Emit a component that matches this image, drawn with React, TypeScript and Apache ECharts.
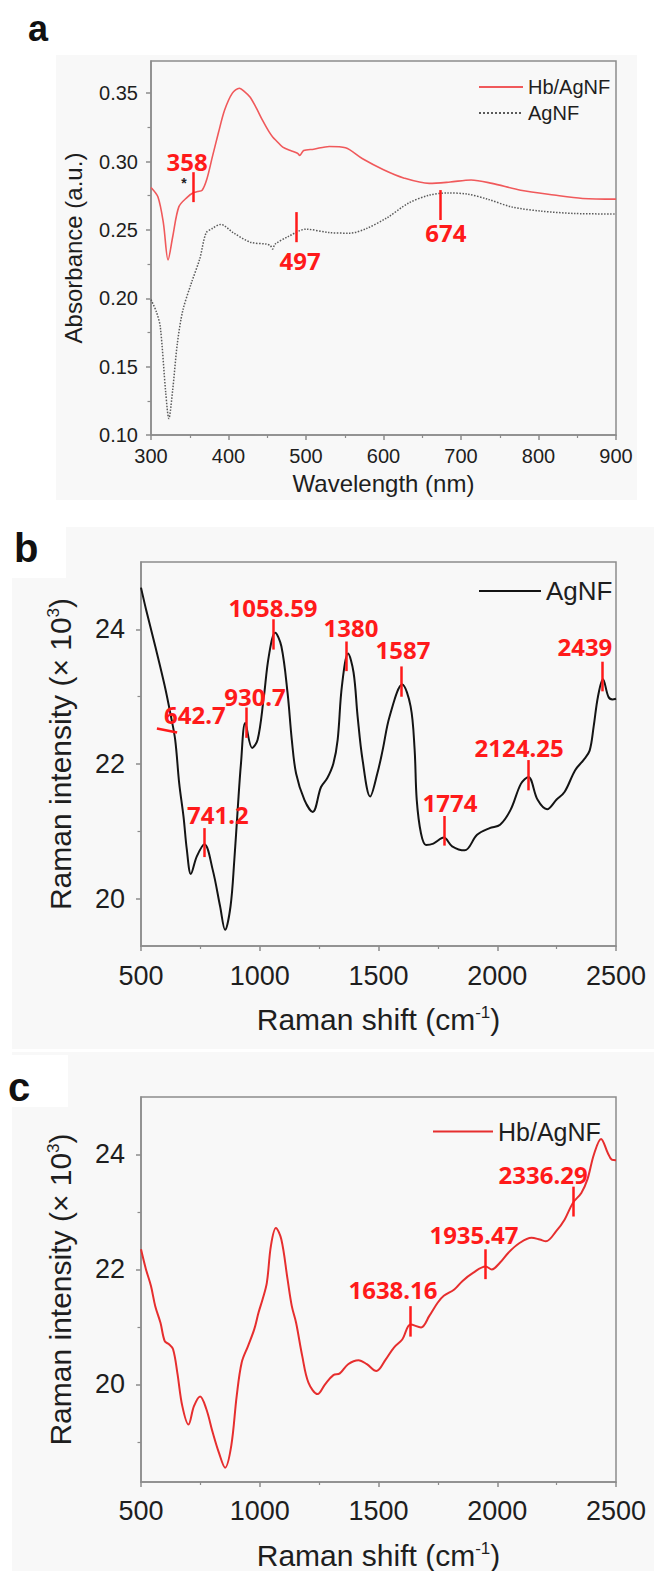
import React, { useEffect, useRef } from "react";
import * as echarts from "echarts";

// ---------- Panel a: UV-vis absorbance ----------
const uvHbX = [300, 309, 316, 322, 328, 336, 347, 354, 360, 366, 372, 379, 387, 395, 405, 414, 421, 428, 436, 444, 452, 457, 462, 470, 480, 489, 492, 497, 510, 530, 551, 573, 600, 626, 659, 686, 713, 740, 777, 820, 857, 900];
const uvHbY = [0.281, 0.274, 0.255, 0.228, 0.245, 0.267, 0.274, 0.277, 0.278, 0.279, 0.287, 0.303, 0.321, 0.3376, 0.350, 0.3536, 0.351, 0.347, 0.339, 0.330, 0.322, 0.318, 0.315, 0.3105, 0.308, 0.306, 0.3045, 0.308, 0.309, 0.311, 0.310, 0.302, 0.294, 0.288, 0.284, 0.285, 0.2865, 0.284, 0.279, 0.2755, 0.273, 0.2725];
const uvAgX = [300, 307, 312, 319, 323, 328, 334, 341, 352, 363, 371, 379, 390, 406, 428, 449, 454, 457, 460, 476, 500, 530, 557, 578, 605, 632, 659, 683, 708, 734, 766, 804, 847, 900];
const uvAgY = [0.199, 0.190, 0.179, 0.131, 0.112, 0.133, 0.167, 0.191, 0.211, 0.229, 0.2477, 0.251, 0.254, 0.248, 0.241, 0.2396, 0.2385, 0.236, 0.2395, 0.2448, 0.2505, 0.248, 0.2476, 0.251, 0.259, 0.2695, 0.2754, 0.277, 0.2762, 0.2725, 0.2667, 0.2637, 0.262, 0.2616];
const uvYTicks = [0.1, 0.15, 0.2, 0.25, 0.3, 0.35];
const uvYMinor = [0.125, 0.175, 0.225, 0.275, 0.325];
const uvPeakText = ["358", "497", "674"];
const uvPeakLabelX = [346.5, 492.3, 680.6];
const uvPeakLabelY = [0.3003, 0.2279, 0.2484];
const uvPeakTickX = [354.2, 487.1, 672.9];
const uvPeakTickY1 = [0.2922, 0.263, 0.2791];
const uvPeakTickY2 = [0.2703, 0.241, 0.2572];

// ---------- Panel b: Raman AgNF ----------
const ramanAgX = [500, 521, 560, 600, 626, 644, 661, 679, 693, 710, 735, 767, 802, 833, 854, 877, 893, 907, 921, 939, 968, 991, 1016, 1038, 1065, 1091, 1117, 1135, 1153, 1188, 1223, 1258, 1284, 1310, 1328, 1346, 1372, 1395, 1412, 1433, 1465, 1495, 1517, 1547, 1600, 1635, 1652, 1661, 1679, 1700, 1731, 1775, 1810, 1863, 1915, 1968, 2012, 2056, 2100, 2131, 2170, 2210, 2249, 2284, 2328, 2363, 2389, 2406, 2424, 2445, 2468, 2485, 2500];
const ramanAgY = [24.62, 24.30, 23.75, 23.16, 22.71, 22.36, 21.71, 21.22, 20.73, 20.37, 20.63, 20.81, 20.43, 19.89, 19.54, 19.89, 20.58, 21.32, 22.01, 22.61, 22.24, 22.36, 22.96, 23.60, 23.95, 23.75, 23.06, 22.36, 21.86, 21.47, 21.29, 21.66, 21.79, 22.01, 22.36, 23.16, 23.64, 23.36, 22.71, 22.06, 21.52, 21.86, 22.2, 22.71, 23.18, 22.86, 22.22, 21.47, 20.97, 20.80, 20.82, 20.91, 20.78, 20.72, 20.95, 21.05, 21.10, 21.32, 21.71, 21.81, 21.47, 21.33, 21.47, 21.59, 21.91, 22.06, 22.2, 22.56, 23.0, 23.26, 23.0, 22.96, 22.97];
const ramanBText = ["642.7", "741.2", "930.7", "1058.59", "1380", "1587", "1774", "2124.25", "2439"];
const ramanBLabelX = [727, 824, 980, 1056, 1384, 1603, 1801, 2092, 2369];
const ramanBLabelY = [22.74, 21.25, 23.0, 24.33, 24.03, 23.70, 21.43, 22.25, 23.75];
const ramanBTickX1 = [567, 766, 945, 1055, 1366, 1596, 1775, 2129, 2441];
const ramanBTickX2 = [652, 766, 945, 1055, 1366, 1596, 1775, 2129, 2441];
const ramanBTickY1 = [22.53, 21.05, 22.84, 24.15, 23.82, 23.45, 21.23, 22.06, 23.52];
const ramanBTickY2 = [22.47, 20.62, 22.39, 23.70, 23.38, 23.0, 20.79, 21.61, 23.08];

// ---------- Panel c: Raman Hb/AgNF ----------
const ramanHbX = [500, 521, 542, 560, 582, 600, 617, 635, 653, 674, 700, 723, 749, 775, 802, 828, 854, 880, 903, 924, 951, 977, 995, 1012, 1030, 1047, 1068, 1091, 1117, 1135, 1153, 1179, 1205, 1244, 1275, 1310, 1337, 1372, 1416, 1451, 1491, 1530, 1565, 1600, 1635, 1679, 1714, 1749, 1775, 1819, 1854, 1898, 1951, 1977, 2012, 2047, 2091, 2144, 2179, 2205, 2249, 2284, 2319, 2354, 2380, 2407, 2437, 2465, 2482, 2500];
const ramanHbY = [22.35, 22.0, 21.71, 21.36, 21.07, 20.75, 20.70, 20.61, 20.2, 19.62, 19.30, 19.62, 19.79, 19.57, 19.16, 18.81, 18.55, 18.93, 19.80, 20.38, 20.67, 20.96, 21.25, 21.48, 21.77, 22.41, 22.72, 22.52, 21.83, 21.36, 21.07, 20.49, 20.03, 19.83, 20.0, 20.16, 20.19, 20.35, 20.42, 20.35, 20.23, 20.43, 20.64, 20.78, 21.04, 20.99, 21.19, 21.42, 21.54, 21.65, 21.80, 21.94, 22.05, 22.0, 22.12, 22.29, 22.45, 22.55, 22.52, 22.49, 22.67, 22.87, 23.16, 23.33, 23.57, 24.0, 24.27, 24.03, 23.91, 23.90];
const ramanCText = ["1638.16", "1935.47", "2336.29"];
const ramanCLabelX = [1561, 1902, 2193];
const ramanCLabelY = [21.65, 22.61, 23.65];
const ramanCTickX = [1633, 1950, 2319];
const ramanCTickY1 = [21.36, 22.35, 23.44];
const ramanCTickY2 = [20.83, 21.83, 22.92];

const ramanYTicks = [20, 22, 24];
const ramanBMinor = [21, 23];
const ramanCMinor = [19, 21, 23];

const FONT = "'Liberation Sans', Arial, Helvetica, sans-serif";
const LABEL_FONT = "'Noto Sans', 'Open Sans', sans-serif";
const RED = "#ff1a1a";
const AXIS = "#8c8c8c";
const TXT = "#1e1e1e";

const zip = (xs: number[], ys: number[]) => xs.map((x, i) => [x, ys[i]]);

function annotations(text: string[], lx: number[], ly: number[], tx1: number[], tx2: number[], ty1: number[], ty2: number[], extra: any[] = []) {
  return {
    markLine: {
      silent: true,
      symbol: ["none", "none"],
      lineStyle: { color: RED, width: 2.5, type: "solid" },
      label: { show: false },
      emphasis: { disabled: true },
      data: text.map((_, i) => [{ coord: [tx1[i], ty1[i]] }, { coord: [tx2[i], ty2[i]] }]),
    },
    markPoint: {
      silent: true,
      symbol: "circle",
      symbolSize: 1,
      itemStyle: { color: "rgba(0,0,0,0)" },
      label: { show: true, position: "inside", formatter: "{b}", color: RED, fontSize: 24, fontWeight: "bold", fontFamily: LABEL_FONT },
      data: text.map((t, i) => ({ name: t, coord: [lx[i], ly[i]] })).concat(extra),
    },
  };
}

function xAxisCfg(grid: number, min: number, max: number, interval: number, fs: number, nfs: number, margin: number, gap: number, name: string, rich: any) {
  return {
    type: "value", gridIndex: grid, min, max, interval,
    axisLine: { show: true, lineStyle: { color: AXIS, width: 1.5 } },
    axisTick: { show: true, length: 5, lineStyle: { color: AXIS, width: 1.5 } },
    minorTick: { show: true, splitNumber: 2, length: 3, lineStyle: { color: AXIS, width: 1.2 } },
    splitLine: { show: false },
    axisLabel: { fontSize: fs, color: TXT, fontFamily: FONT, margin, formatter: (v: number) => String(v) },
    name, nameLocation: "middle", nameGap: gap,
    nameTextStyle: { fontSize: nfs, color: TXT, fontFamily: FONT, rich },
  };
}

function yAxisCfg(grid: number, min: number, max: number, ticks: number[], fs: number, nfs: number, margin: number, gap: number, name: string, rich: any, fmt: (v: number) => string) {
  return {
    type: "value", gridIndex: grid, min, max, position: "left",
    axisLine: { show: true, lineStyle: { color: AXIS, width: 1.5 } },
    axisTick: { show: true, length: 5, customValues: ticks, lineStyle: { color: AXIS, width: 1.5 } },
    splitLine: { show: false },
    axisLabel: { fontSize: fs, color: TXT, fontFamily: FONT, margin, customValues: ticks, formatter: fmt },
    name, nameLocation: "middle", nameGap: gap,
    nameTextStyle: { fontSize: nfs, color: TXT, fontFamily: FONT, rich },
  };
}

function yMinorCfg(grid: number, min: number, max: number, ticks: number[]) {
  return {
    type: "value", gridIndex: grid, min, max, position: "left",
    axisLine: { show: false },
    axisTick: { show: true, length: 3.5, customValues: ticks, lineStyle: { color: AXIS, width: 1.2 } },
    axisLabel: { show: false, customValues: ticks },
    splitLine: { show: false },
  };
}

const displayName = (n: string) => n.replace(/ \[.\]$/, "");
const legendBase = {
  orient: "vertical", selectedMode: false, formatter: displayName,
  itemStyle: { opacity: 0 },
};

export default function App() {
  const ref = useRef<HTMLDivElement>(null);
  useEffect(() => {
    document.body.style.margin = "0";
    document.body.style.overflow = "hidden";
    const chart = echarts.init(ref.current!, undefined, { renderer: "svg" });
    const sup = { fontSize: 17, verticalAlign: "top", lineHeight: 30, fontFamily: FONT, color: TXT };
    const option: any = {
      animation: false,
      backgroundColor: "#ffffff",
      graphic: [
        { type: "rect", z: -10, silent: true, shape: { x: 56, y: 55, width: 581, height: 445 }, style: { fill: "#f8f8f8" } },
        { type: "rect", z: -10, silent: true, shape: { x: 12, y: 527, width: 642, height: 522 }, style: { fill: "#f8f8f8" } },
        { type: "rect", z: -10, silent: true, shape: { x: 12, y: 1052, width: 642, height: 519 }, style: { fill: "#f8f8f8" } },
        { type: "rect", z: -9, silent: true, shape: { x: 0, y: 520, width: 66, height: 58 }, style: { fill: "#ffffff" } },
        { type: "rect", z: -9, silent: true, shape: { x: 0, y: 1055, width: 68, height: 52 }, style: { fill: "#ffffff" } },
        { type: "text", x: 28, y: 28, style: { text: "a", fontSize: 36, fontWeight: "bold", fontFamily: FONT, fill: "#111", textVerticalAlign: "middle" } },
        { type: "text", x: 14, y: 548, style: { text: "b", fontSize: 40, fontWeight: "bold", fontFamily: FONT, fill: "#111", textVerticalAlign: "middle" } },
        { type: "text", x: 8, y: 1087, style: { text: "c", fontSize: 40, fontWeight: "bold", fontFamily: FONT, fill: "#111", textVerticalAlign: "middle" } },
      ],
      grid: [
        { left: 151, top: 61, width: 465, height: 374, show: true, borderColor: AXIS, borderWidth: 1.5, backgroundColor: "transparent" },
        { left: 141, top: 562, width: 475, height: 384, show: true, borderColor: AXIS, borderWidth: 1.5, backgroundColor: "transparent" },
        { left: 141, top: 1097, width: 475, height: 386, show: true, borderColor: AXIS, borderWidth: 1.5, backgroundColor: "transparent" },
      ],
      legend: [
        {
          ...legendBase, left: 473, top: 72, itemWidth: 44, itemHeight: 14, itemGap: 6,
          textStyle: { fontSize: 20, color: TXT, fontFamily: FONT, lineHeight: 20 },
          data: ["Hb/AgNF [a]", "AgNF [a]"],
        },
        {
          ...legendBase, left: 473, top: 573, itemWidth: 62, itemHeight: 14,
          textStyle: { fontSize: 26, color: TXT, fontFamily: FONT },
          data: ["AgNF [b]"],
        },
        {
          ...legendBase, left: 427, top: 1114, itemWidth: 60, itemHeight: 14,
          textStyle: { fontSize: 25, color: TXT, fontFamily: FONT },
          data: ["Hb/AgNF [c]"],
        },
      ],
      xAxis: [
        xAxisCfg(0, 300, 900, 100, 20, 24, 11, 36, "Wavelength (nm)", {}),
        xAxisCfg(1, 500, 2500, 500, 27, 30, 16, 58, "Raman shift (cm{sup|-1})", { sup }),
        xAxisCfg(2, 500, 2500, 500, 27, 30, 15, 58, "Raman shift (cm{sup|-1})", { sup }),
      ],
      yAxis: [
        yAxisCfg(0, 0.1, 0.3735, uvYTicks, 20, 24, 13, 66, "Absorbance (a.u.)", {}, (v: number) => v.toFixed(2)),
        yMinorCfg(0, 0.1, 0.3735, uvYMinor),
        yAxisCfg(1, 19.3, 25, ramanYTicks, 27, 30, 16, 66, "Raman intensity (× 10{sup|3})", { sup }, (v: number) => String(v)),
        yMinorCfg(1, 19.3, 25, ramanBMinor),
        yAxisCfg(2, 18.3, 25, ramanYTicks, 27, 30, 16, 66, "Raman intensity (× 10{sup|3})", { sup }, (v: number) => String(v)),
        yMinorCfg(2, 18.3, 25, ramanCMinor),
      ],
      series: [
        {
          type: "line", name: "Hb/AgNF [a]", xAxisIndex: 0, yAxisIndex: 0,
          data: zip(uvHbX, uvHbY), symbol: "none", smooth: 0.3,
          lineStyle: { color: "#f0595b", width: 1.6 }, itemStyle: { color: "#f0595b" },
          ...annotations(uvPeakText, uvPeakLabelX, uvPeakLabelY, uvPeakTickX, uvPeakTickX, uvPeakTickY1, uvPeakTickY2, [
            { name: "*", coord: [342.6, 0.2842], label: { color: "#222", fontSize: 14, fontWeight: "bold", fontFamily: FONT } },
          ]),
        },
        {
          type: "line", name: "AgNF [a]", xAxisIndex: 0, yAxisIndex: 0,
          data: zip(uvAgX, uvAgY), symbol: "none", smooth: 0.3,
          lineStyle: { color: "#5a5a5a", width: 1.5, type: "dotted" }, itemStyle: { color: "#5a5a5a" },
        },
        {
          type: "line", name: "AgNF [b]", xAxisIndex: 1, yAxisIndex: 2,
          data: zip(ramanAgX, ramanAgY), symbol: "none", smooth: 0.35,
          lineStyle: { color: "#141414", width: 2 }, itemStyle: { color: "#141414" },
          ...annotations(ramanBText, ramanBLabelX, ramanBLabelY, ramanBTickX1, ramanBTickX2, ramanBTickY1, ramanBTickY2),
        },
        {
          type: "line", name: "Hb/AgNF [c]", xAxisIndex: 2, yAxisIndex: 4,
          data: zip(ramanHbX, ramanHbY), symbol: "none", smooth: 0.35,
          lineStyle: { color: "#e62e2e", width: 2 }, itemStyle: { color: "#e62e2e" },
          ...annotations(ramanCText, ramanCLabelX, ramanCLabelY, ramanCTickX, ramanCTickX, ramanCTickY1, ramanCTickY2),
        },
      ],
    };
    chart.setOption(option);
    return () => chart.dispose();
  }, []);
  return <div ref={ref} style={{ width: 654, height: 1571 }} />;
}
